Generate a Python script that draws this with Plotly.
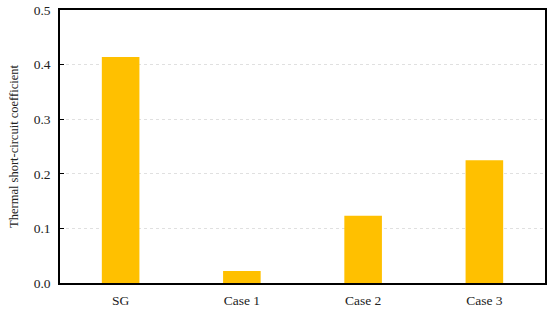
import plotly.graph_objects as go

categories = ["SG", "Case 1", "Case 2", "Case 3"]
values = [0.414, 0.022, 0.123, 0.225]
y_ticks = [0.0, 0.1, 0.2, 0.3, 0.4, 0.5]
y_labels = ["0.0", "0.1", "0.2", "0.3", "0.4", "0.5"]

fig = go.Figure(go.Bar(x=categories, y=values, marker_color="#FFC000",
                       width=0.31, marker_line_width=0))
fig.update_layout(
    width=550, height=311,
    margin=dict(l=60, r=5, t=10, b=28),
    plot_bgcolor="white", paper_bgcolor="white",
    font=dict(family="Times New Roman, Liberation Serif, serif", size=13.5, color="#222222"),
    showlegend=False,
)
fig.update_xaxes(showline=True, linecolor="black", linewidth=1.5, mirror=True,
                 ticks="", showgrid=False, ticklabelstandoff=4, automargin=False)
fig.update_yaxes(range=[0, 0.5], tickvals=y_ticks, ticktext=y_labels,
                 showline=True, linecolor="black", linewidth=1.5, mirror=True,
                 ticks="inside", ticklen=4, tickcolor="black", ticklabelstandoff=5,
                 automargin=False,
                 showgrid=True, gridcolor="#e0e0e0", griddash="dot", gridwidth=1,
                 title=dict(text="Thermal short-circuit coefficient", font=dict(size=12.5), standoff=12))
fig.write_html("out.html")
